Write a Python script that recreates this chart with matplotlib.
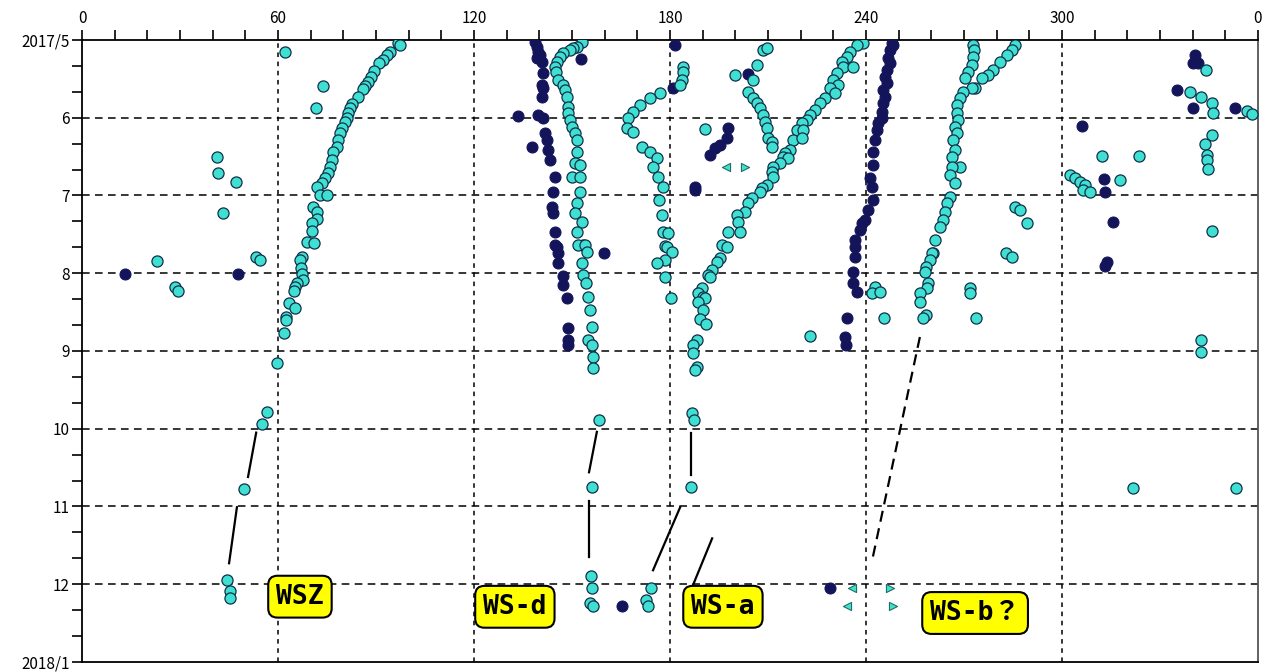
import matplotlib
matplotlib.use("Agg")
import numpy as np
from matplotlib import pyplot as plt
from matplotlib.ticker import MultipleLocator

# x = longitude (deg), y = month (5 = 2017/5, 13 = 2018/1)

# WSZ track (cyan)
wsz_deg = [96.7, 97.3, 94.3, 93.4, 92.1, 90.9, 89.5, 88.5, 87.5, 86.6, 86.0, 84.5, 82.6, 82.0, 81.4, 81.1,
           80.5, 79.6, 79.0, 78.4, 78.1, 76.8, 76.5, 75.9, 75.3, 74.4, 73.5, 71.9, 72.9, 75.0, 70.7, 71.9,
           71.9, 70.4, 70.4, 68.9, 71.0, 67.3, 66.7, 67.0, 67.3, 67.6, 65.8, 65.2, 64.9, 63.4, 65.2, 62.4,
           62.4, 61.8, 59.7, 56.6, 55.1, 49.6, 44.4, 45.3, 45.3]
wsz_mon = [5.04, 5.06, 5.15, 5.19, 5.26, 5.30, 5.40, 5.47, 5.54, 5.59, 5.63, 5.73, 5.82, 5.87, 5.94, 6.00,
           6.05, 6.13, 6.20, 6.29, 6.38, 6.44, 6.54, 6.63, 6.71, 6.77, 6.84, 6.89, 6.99, 6.99, 7.15, 7.21,
           7.30, 7.35, 7.46, 7.60, 7.61, 7.79, 7.83, 7.93, 8.01, 8.09, 8.13, 8.18, 8.23, 8.38, 8.45, 8.56,
           8.60, 8.77, 9.15, 9.78, 9.94, 10.77, 11.95, 12.09, 12.18]

# WS-d track (cyan)
wsd_deg = [153.1, 151.5, 150.3, 149.4, 147.2, 146.3, 145.4, 144.8, 145.1, 145.7, 147.2, 147.9, 148.5, 148.8,
           148.8, 149.4, 150.0, 150.9, 151.5, 151.5, 150.9, 152.4, 150.0, 152.4, 152.4, 151.5, 150.9, 153.1,
           151.5, 153.4, 151.8, 154.0, 154.6, 153.1, 153.4, 154.3, 154.9, 155.5, 156.1, 154.9, 156.1, 156.4,
           156.4, 158.3, 156.1, 155.8, 156.1, 155.5, 156.4]
wsd_mon = [5.03, 5.09, 5.10, 5.13, 5.17, 5.22, 5.28, 5.35, 5.41, 5.51, 5.58, 5.64, 5.73, 5.86,
           5.94, 6.03, 6.12, 6.20, 6.29, 6.44, 6.58, 6.61, 6.76, 6.76, 6.96, 7.10, 7.23, 7.34,
           7.47, 7.64, 7.64, 7.64, 7.73, 7.87, 8.02, 8.13, 8.31, 8.47, 8.69, 8.86, 8.92, 9.08,
           9.22, 9.89, 10.75, 11.89, 12.05, 12.24, 12.28]

# C-shaped track near 180 (cyan)
c180_deg = [184.0, 184.0, 183.7, 183.1, 176.9, 173.9, 170.8, 168.7, 167.1, 166.8, 168.7, 171.4, 173.9, 176.0,
            174.8, 176.3, 177.9, 176.6, 177.6, 177.9, 179.4, 178.5, 179.1, 180.6, 178.5, 176.0, 178.5, 180.3]
c180_mon = [5.35, 5.41, 5.51, 5.58, 5.68, 5.75, 5.84, 5.93, 6.00, 6.13, 6.18, 6.38, 6.44, 6.52,
            6.63, 6.76, 6.89, 7.06, 7.25, 7.47, 7.48, 7.65, 7.66, 7.73, 7.83, 7.87, 8.05, 8.32]

# WS-a track, diagonal 239 -> 186 (cyan)
wsa_deg = [239.1, 237.2, 235.1, 234.2, 232.7, 233.0, 236.0, 231.1, 229.9, 231.4, 229.0, 230.5, 227.4, 225.9,
           224.4, 222.9, 221.9, 220.4, 218.9, 220.7, 217.7, 220.4, 216.7, 215.2, 214.6, 216.1, 213.7, 211.5,
           211.2, 211.5, 209.7, 208.2, 207.5, 205.1, 203.9, 203.0, 200.5, 200.8, 201.4, 197.8, 195.9, 197.4,
           195.3, 194.4, 192.9, 191.6, 192.2, 189.8, 188.6, 190.1, 190.7, 188.6, 190.1, 189.2, 191.0, 188.3,
           187.0, 187.0, 188.3, 187.7, 186.7, 187.3, 186.4, 174.2, 172.6, 173.3]
wsa_mon = [5.04, 5.06, 5.15, 5.22, 5.28, 5.35, 5.35, 5.42, 5.51, 5.58, 5.62, 5.68, 5.75, 5.81,
           5.90, 5.96, 6.03, 6.07, 6.16, 6.16, 6.29, 6.26, 6.41, 6.45, 6.50, 6.52, 6.58, 6.63,
           6.70, 6.76, 6.86, 6.90, 6.95, 7.03, 7.10, 7.21, 7.25, 7.34, 7.47, 7.47, 7.64, 7.66,
           7.80, 7.86, 7.96, 8.02, 8.05, 8.19, 8.25, 8.31, 8.32, 8.37, 8.47, 8.59, 8.65, 8.86,
           8.92, 9.03, 9.21, 9.24, 9.80, 9.89, 10.75, 12.05, 12.20, 12.28]

# "(" track near 205 (cyan)
c205_deg = [208.5, 209.7, 206.6, 205.4, 203.9, 205.4, 206.6, 207.5, 208.5, 209.1, 209.7, 210.0, 211.2, 211.2]
c205_mon = [5.13, 5.10, 5.32, 5.51, 5.67, 5.75, 5.81, 5.87, 5.96, 6.05, 6.13, 6.26, 6.31, 6.38]

# WS-b track near 265 and its branch to 285 (cyan)
wsb_deg = [272.8, 273.1, 272.8, 272.4, 271.2, 270.3, 273.4, 272.4, 269.7, 268.8, 267.9, 267.9, 268.2, 267.2,
           267.9, 266.6, 267.2, 266.3, 268.8, 266.3, 265.7, 267.2, 265.7, 264.8, 264.2, 263.6, 262.6, 261.1,
           260.5, 260.2, 259.6, 258.4, 258.1, 259.0, 258.7, 256.5, 256.5, 258.4, 257.4,
           285.6, 284.7, 283.2, 281.0, 278.9, 277.3, 275.5]
wsb_mon = [5.06, 5.13, 5.22, 5.32, 5.41, 5.49, 5.62, 5.62, 5.67, 5.75, 5.84, 5.94, 6.03, 6.12,
           6.20, 6.29, 6.41, 6.50, 6.63, 6.63, 6.74, 6.84, 7.02, 7.10, 7.21, 7.32, 7.41, 7.57,
           7.74, 7.74, 7.83, 7.92, 7.98, 8.13, 8.19, 8.25, 8.37, 8.54, 8.58,
           5.06, 5.13, 5.19, 5.28, 5.39, 5.45, 5.49]

# scattered cyan points
cyan_deg = [62.1, 73.8, 71.6, 41.3, 41.6, 47.1, 43.2, 23.0, 28.5, 29.4, 53.3, 54.5,
            199.9, 190.7, 242.8, 241.8, 244.3, 245.5, 222.9,
            285.6, 287.1, 289.3, 282.9, 284.7, 271.8, 271.8, 273.7,
            344.1, 339.2, 342.5, 345.9, 346.2, 356.6, 358.2, 345.9, 343.8, 344.4, 344.4, 344.7,
            312.2, 323.6, 302.4, 304.0, 305.5, 307.0, 306.4, 308.6, 317.8, 345.9, 342.5, 342.5,
            321.7, 353.3]
cyan_mon = [5.15, 5.59, 5.87, 6.50, 6.71, 6.83, 7.23, 7.84, 8.18, 8.23, 7.79, 7.83,
            5.45, 6.14, 8.18, 8.25, 8.24, 8.58, 8.81,
            7.15, 7.19, 7.35, 7.74, 7.79, 8.19, 8.25, 8.58,
            5.39, 5.67, 5.73, 5.81, 5.94, 5.91, 5.95, 6.22, 6.34, 6.48, 6.54, 6.66,
            6.49, 6.49, 6.74, 6.77, 6.83, 6.86, 6.93, 6.95, 6.80, 7.46, 8.86, 9.01,
            10.76, 10.76]

# navy points
navy_deg = [138.7, 139.3, 139.6, 140.2, 139.3, 140.8, 141.1, 140.8, 141.1, 140.8, 139.6, 141.1, 141.7, 142.3,
            142.7, 143.3, 144.8, 144.2, 143.9, 144.2, 144.8, 145.4, 144.8, 145.7, 145.7, 147.2, 147.2, 148.5,
            148.8, 148.8, 148.8, 133.5, 137.8, 152.8, 159.8, 165.3,
            13.2, 47.8, 181.5, 180.9, 203.9, 197.8, 197.4, 195.3, 193.8, 192.2, 187.7, 187.7,
            248.0, 248.3, 247.3, 246.7, 247.3, 246.4, 245.8, 246.4, 245.2, 245.8, 245.2, 244.9, 244.9, 243.7,
            243.4, 242.8, 242.1, 242.1, 241.2, 241.8, 242.1, 240.6, 239.7, 238.8, 238.2, 236.6, 236.6, 236.6,
            236.0, 236.0, 237.2, 234.2, 233.6, 233.9, 229.0,
            340.7, 340.1, 341.6, 335.2, 340.1, 352.9, 306.1, 312.9, 313.2, 315.6, 313.8, 313.2]
navy_mon = [5.03, 5.09, 5.15, 5.19, 5.23, 5.28, 5.42, 5.58, 5.62, 5.73, 5.96, 6.00, 6.20, 6.29,
            6.41, 6.54, 6.76, 6.96, 7.15, 7.23, 7.47, 7.66, 7.64, 7.74, 7.87, 8.04, 8.15, 8.32,
            8.70, 8.86, 8.92, 5.98, 6.38, 5.24, 7.74, 12.28,
            8.01, 8.01, 5.06, 5.62, 5.44, 6.13, 6.26, 6.35, 6.39, 6.48, 6.89, 6.93,
            5.04, 5.06, 5.13, 5.23, 5.30, 5.39, 5.48, 5.55, 5.64, 5.73, 5.81, 5.93, 6.00, 6.07,
            6.16, 6.29, 6.44, 6.61, 6.77, 6.89, 7.06, 7.19, 7.32, 7.35, 7.44, 7.57, 7.66, 7.79,
            7.98, 8.13, 8.24, 8.58, 8.82, 8.92, 12.05,
            5.19, 5.30, 5.30, 5.64, 5.87, 5.87, 6.11, 6.79, 6.95, 7.34, 7.86, 7.91]

# triangle markers
tri_left_deg = [197.1, 235.7, 234.2]
tri_left_mon = [6.63, 12.05, 12.28]
tri_right_deg = [203.0, 247.3, 248.3]
tri_right_mon = [6.63, 12.05, 12.28]

# annotation lines: (deg0, mon0, deg1, mon1)
solid_lines = [(53.3, 10.05, 50.8, 10.62), (47.4, 11.01, 45.0, 11.73),
               (157.6, 10.04, 155.2, 10.56), (155.2, 10.93, 155.2, 11.65),
               (186.4, 10.05, 186.4, 10.60), (183.1, 11.01, 174.8, 11.82),
               (192.9, 11.41, 184.9, 12.23)]
dashed_lines = [(256.5, 8.82, 242.1, 11.65)]

labels = ['WSZ', 'WS-d', 'WS-a', 'WS-b？']
label_deg = [66.7, 132.5, 196.2, 273.4]
label_mon = [12.16, 12.29, 12.29, 12.37]

x_ticks = [0, 60, 120, 180, 240, 300, 360]
x_ticklabels = ['0', '60', '120', '180', '240', '300', '0']
y_ticks = [5, 6, 7, 8, 9, 10, 11, 12, 13]
y_ticklabels = ['2017/5', '6', '7', '8', '9', '10', '11', '12', '2018/1']

CYAN = '#3fe0d2'
NAVY = '#14145a'
EDGE = '#10304a'

plt.rcParams['font.family'] = ['Noto Sans CJK JP', 'DejaVu Sans']

fig = plt.figure(figsize=(12.63, 6.72), dpi=100)
ax = fig.add_axes([0.065, 0.0149, 0.931, 0.9256])

ax.set_xlim(0, 360)
ax.set_ylim(13, 5)

# grid
for x in x_ticks[1:-1]:
    ax.axvline(x, color='black', lw=1.1, linestyle=(0, (3, 3)), zorder=1)
for y in y_ticks[1:-1]:
    ax.axhline(y, color='black', lw=1.1, linestyle=(0, (5, 3.5)), zorder=1)

ax.scatter(navy_deg, navy_mon, s=62, c=NAVY, edgecolors=NAVY, linewidths=0.8, zorder=3)
for d, m in [(wsz_deg, wsz_mon), (wsd_deg, wsd_mon), (c180_deg, c180_mon), (wsa_deg, wsa_mon),
             (c205_deg, c205_mon), (wsb_deg, wsb_mon), (cyan_deg, cyan_mon)]:
    ax.scatter(d, m, s=64, c=CYAN, edgecolors=EDGE, linewidths=0.9, zorder=4)
ax.scatter(tri_left_deg, tri_left_mon, s=34, marker='<', c=CYAN, edgecolors='#207060', linewidths=0.8, zorder=4)
ax.scatter(tri_right_deg, tri_right_mon, s=34, marker='>', c=CYAN, edgecolors='#207060', linewidths=0.8, zorder=4)

for x0, y0, x1, y1 in solid_lines:
    ax.plot([x0, x1], [y0, y1], color='black', lw=1.6, zorder=5)
for x0, y0, x1, y1 in dashed_lines:
    ax.plot([x0, x1], [y0, y1], color='black', lw=1.6, linestyle=(0, (5, 3)), zorder=5)

for txt, x, y in zip(labels, label_deg, label_mon):
    ax.text(x, y, txt, ha='center', va='center', fontsize=19, fontweight='bold',
            family=['DejaVu Sans Mono', 'Noto Sans CJK JP'], zorder=6,
            bbox=dict(boxstyle='round,pad=0.3,rounding_size=0.35', fc='#ffff00', ec='black', lw=1.5))

ax.set_xticks(x_ticks)
ax.set_xticklabels(x_ticklabels)
ax.xaxis.set_minor_locator(MultipleLocator(10))
ax.xaxis.tick_top()
ax.set_yticks(y_ticks)
ax.set_yticklabels(y_ticklabels)
ax.yaxis.set_minor_locator(MultipleLocator(1 / 3))
ax.tick_params(axis='x', which='both', direction='out', length=7, width=1.2, top=True, bottom=False,
               labelsize=11, pad=2)
ax.tick_params(axis='y', which='both', direction='out', length=7, width=1.2, left=True, right=False,
               labelsize=11, pad=2)
for sp in ax.spines.values():
    sp.set_linewidth(1.3)
ax.spines['right'].set_color('#555555')

fig.savefig('out.png', dpi=100)
